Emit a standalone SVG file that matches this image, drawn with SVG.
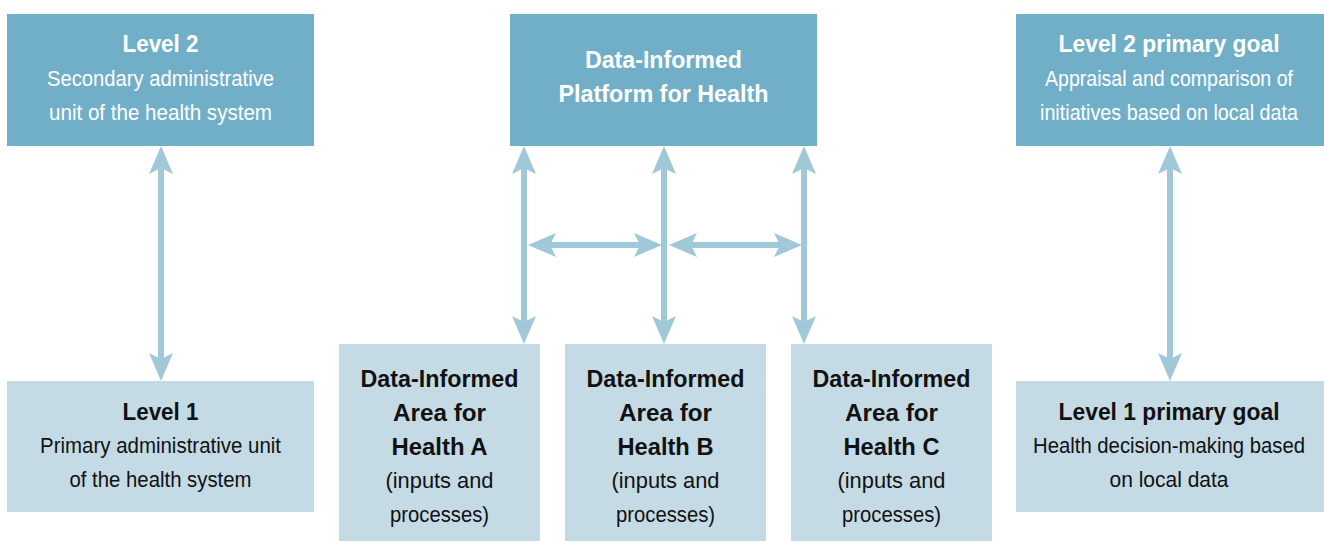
<svg xmlns="http://www.w3.org/2000/svg" width="1324" height="541" viewBox="0 0 1324 541">
  <style>
    .dark { fill: #71afc8; }
    .light { fill: #c4dbe5; }
    text { font-family: "Liberation Sans Narrow", "Liberation Sans", Arial, sans-serif; text-anchor: middle; }
    .b { font-weight: bold; font-size: 24px; }
    .r { font-size: 22px; }
    .w { fill: #ffffff; }
    .k { fill: #111111; }
    .conn line { stroke: #a0c8d9; stroke-width: 6; fill: none; marker-start: url(#ah); marker-end: url(#ah); }
  </style>
  <defs>
    <marker id="ah" markerUnits="userSpaceOnUse" viewBox="0 0 28 24" markerWidth="28" markerHeight="24" refX="18" refY="12" orient="auto-start-reverse">
      <path d="M0,0 L28,12 L0,24 L6,12 Z" fill="#a0c8d9"/>
    </marker>
  </defs>

  <g id="connectors" class="conn">
    <line x1="161" y1="156" x2="161" y2="371"/>
    <line x1="1170" y1="156" x2="1170" y2="371"/>
    <line x1="524" y1="156" x2="524" y2="334"/>
    <line x1="664" y1="156" x2="664" y2="334"/>
    <line x1="804" y1="156" x2="804" y2="334"/>
    <line x1="538" y1="245" x2="652" y2="245"/>
    <line x1="679" y1="245" x2="792" y2="245"/>
  </g>

  <g id="level2">
    <rect class="dark" x="7" y="14" width="307" height="132"/>
    <text class="b w" x="160.5" y="52" textLength="76" lengthAdjust="spacingAndGlyphs">Level 2</text>
    <text class="r w" x="160.5" y="86" textLength="227" lengthAdjust="spacingAndGlyphs">Secondary administrative</text>
    <text class="r w" x="160.5" y="119.5" textLength="223" lengthAdjust="spacingAndGlyphs">unit of the health system</text>
  </g>

  <g id="platform">
    <rect class="dark" x="510" y="14" width="307" height="132"/>
    <text class="b w" x="663.5" y="68" textLength="157" lengthAdjust="spacingAndGlyphs">Data-Informed</text>
    <text class="b w" x="663.5" y="102" textLength="210" lengthAdjust="spacingAndGlyphs">Platform for Health</text>
  </g>

  <g id="level2goal">
    <rect class="dark" x="1016" y="14" width="308" height="132"/>
    <text class="b w" x="1169" y="52" textLength="221" lengthAdjust="spacingAndGlyphs">Level 2 primary goal</text>
    <text class="r w" x="1169" y="86" textLength="248" lengthAdjust="spacingAndGlyphs">Appraisal and comparison of</text>
    <text class="r w" x="1169" y="119.5" textLength="258" lengthAdjust="spacingAndGlyphs">initiatives based on local data</text>
  </g>

  <g id="level1">
    <rect class="light" x="7" y="381" width="307" height="131"/>
    <text class="b k" x="160.5" y="420" textLength="76" lengthAdjust="spacingAndGlyphs">Level 1</text>
    <text class="r k" x="160.5" y="453" textLength="241" lengthAdjust="spacingAndGlyphs">Primary administrative unit</text>
    <text class="r k" x="160.5" y="486.5" textLength="182" lengthAdjust="spacingAndGlyphs">of the health system</text>
  </g>

  <g id="level1goal">
    <rect class="light" x="1016" y="381" width="308" height="131"/>
    <text class="b k" x="1169" y="420" textLength="221" lengthAdjust="spacingAndGlyphs">Level 1 primary goal</text>
    <text class="r k" x="1169" y="453" textLength="272" lengthAdjust="spacingAndGlyphs">Health decision-making based</text>
    <text class="r k" x="1169" y="486.5" textLength="119" lengthAdjust="spacingAndGlyphs">on local data</text>
  </g>

  <g id="areaA">
    <rect class="light" x="339" y="344" width="201" height="197"/>
    <text class="b k" x="439.5" y="386.7" textLength="158" lengthAdjust="spacingAndGlyphs">Data-Informed</text>
    <text class="b k" x="439.5" y="420.5" textLength="93" lengthAdjust="spacingAndGlyphs">Area for</text>
    <text class="b k" x="439.5" y="454.5" textLength="96" lengthAdjust="spacingAndGlyphs">Health A</text>
    <text class="r k" x="439.5" y="487.5" textLength="108" lengthAdjust="spacingAndGlyphs">(inputs and</text>
    <text class="r k" x="439.5" y="521.5" textLength="99" lengthAdjust="spacingAndGlyphs">processes)</text>
  </g>

  <g id="areaB">
    <rect class="light" x="565" y="344" width="201" height="197"/>
    <text class="b k" x="665.5" y="386.7" textLength="158" lengthAdjust="spacingAndGlyphs">Data-Informed</text>
    <text class="b k" x="665.5" y="420.5" textLength="93" lengthAdjust="spacingAndGlyphs">Area for</text>
    <text class="b k" x="665.5" y="454.5" textLength="96" lengthAdjust="spacingAndGlyphs">Health B</text>
    <text class="r k" x="665.5" y="487.5" textLength="108" lengthAdjust="spacingAndGlyphs">(inputs and</text>
    <text class="r k" x="665.5" y="521.5" textLength="99" lengthAdjust="spacingAndGlyphs">processes)</text>
  </g>

  <g id="areaC">
    <rect class="light" x="791" y="344" width="201" height="197"/>
    <text class="b k" x="891.5" y="386.7" textLength="158" lengthAdjust="spacingAndGlyphs">Data-Informed</text>
    <text class="b k" x="891.5" y="420.5" textLength="93" lengthAdjust="spacingAndGlyphs">Area for</text>
    <text class="b k" x="891.5" y="454.5" textLength="96" lengthAdjust="spacingAndGlyphs">Health C</text>
    <text class="r k" x="891.5" y="487.5" textLength="108" lengthAdjust="spacingAndGlyphs">(inputs and</text>
    <text class="r k" x="891.5" y="521.5" textLength="99" lengthAdjust="spacingAndGlyphs">processes)</text>
  </g>
</svg>
